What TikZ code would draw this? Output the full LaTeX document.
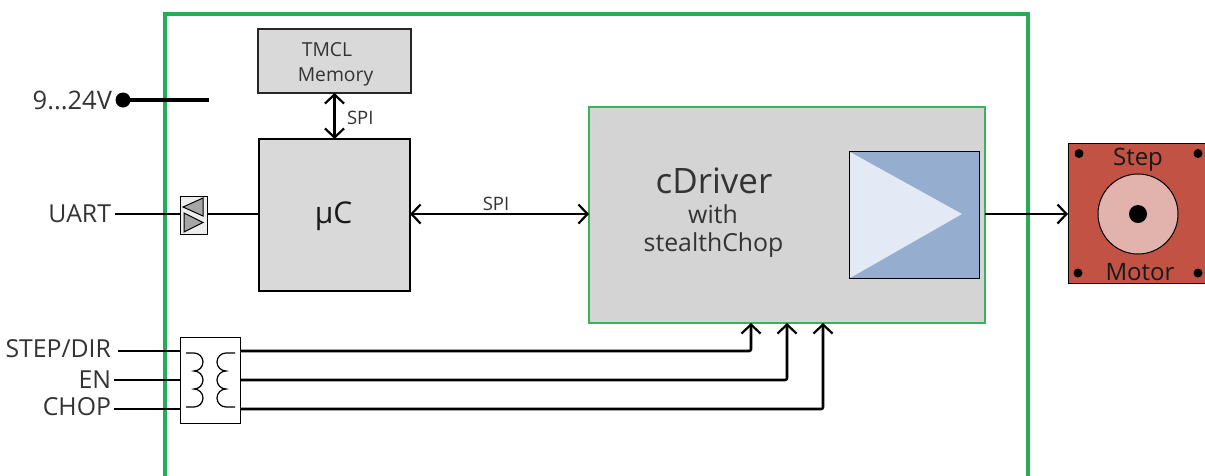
\documentclass[tikz,border=0pt]{standalone}
\usepackage{fontspec}
\setmainfont{Open Sans}
\usetikzlibrary{arrows.meta}
\definecolor{frameg}{HTML}{27AB54}
\definecolor{drvg}{HTML}{3CB05A}
\definecolor{txt}{HTML}{333333}
\tikzset{
  box/.style={draw=#1,inner sep=0pt,outer sep=0pt},
  lbl/.style={inner sep=0pt,outer sep=0pt,text=txt,font=\fontsize{24.8}{25}\selectfont},
  lblr/.style={lbl,anchor=east},
  small/.style={lbl,font=\fontsize{18.5}{18.5}\selectfont},
  wire/.style={line width=2.6pt,black},
  thinwire/.style={line width=2.2pt,black},
  tip/.style={-{Straight Barb[length=9pt,width=19pt,line width=2.2pt]}},
  tiptwo/.style={{Straight Barb[length=9pt,width=19pt,line width=2.2pt]}-{Straight Barb[length=9pt,width=19pt,line width=2.2pt]}},
  coil/.style={line width=1.2pt,black},
}
\begin{document}
\begin{tikzpicture}[x=1pt,y=-1pt]
\useasboundingbox (0,0) rectangle (1205,475);
\clip (0,0) rectangle (1205,475);
% enclosure
\coordinate (fa) at (165,480);
\coordinate (fb) at (165,14);
\coordinate (fc) at (1028,14);
\coordinate (fd) at (1028,480);
\draw[frameg,line width=3.4pt] (fa) -- (fb) -- (fc) -- (fd);
% blocks
\node[box=black!85,fill=black!15,line width=1.6pt,minimum width=153pt,minimum height=64pt] (mem) at (334.5,61) {};
\node[lbl,font=\fontsize{19.3}{19.3}\selectfont] (memA) at (327,50) {TMCL};
\node[lbl,font=\fontsize{19.3}{19.3}\selectfont] (memB) at (335.5,76.5) {Memory};
\node[box=black,fill=black!15,line width=2.4pt,minimum width=151pt,minimum height=152pt] (uc) at (334.5,215) {};
\node[lbl,text=black!90,font=\fontsize{30}{30}\selectfont] (ucl) at (333.5,216) {µC};
\node[box=drvg,fill=black!17,line width=2.4pt,minimum width=396pt,minimum height=216pt] (drv) at (787,215) {};
\node[lbl,font=\fontsize{35}{35}\selectfont] (drvA) at (714,181) {cDriver};
\node[lbl] (drvB) at (713,214) {with};
\node[lbl] (drvC) at (713.5,245.5) {stealthChop};
\node[box=black,fill={rgb,255:red,149;green,173;blue,206},line width=1pt,minimum width=130pt,minimum height=127pt] (amp) at (914.5,214.5) {};
\fill[fill={rgb,255:red,228;green,234;blue,245}] (850,152) -- (962,214) -- (850,278) -- cycle;
\draw[black,line width=1pt] (amp.north west) rectangle (amp.south east);
% motor
\node[box=black,fill={rgb,255:red,193;green,82;blue,68},line width=1pt,minimum width=140pt,minimum height=140pt] (mot) at (1138,213) {};
\node[draw=black,fill={rgb,255:red,226;green,178;blue,172},circle,line width=1pt,minimum size=80pt,inner sep=0pt,outer sep=0pt] (rot) at (1138,214) {};
\node[fill=black,circle,minimum size=18pt,inner sep=0pt] (shaft) at (1138,214) {};
\foreach \n/\a/\b in {m1/1079/153.5,m2/1198/153.5,m3/1078/273,m4/1198/273}
  \node[fill=black,circle,minimum size=9pt,inner sep=0pt] (\n) at (\a,\b) {};
\node[lbl,text=black!90,font=\fontsize{24}{24}\selectfont] (stp) at (1138,159.5) {Step};
\node[lbl,text=black!90,font=\fontsize{24}{24}\selectfont] (mtr) at (1140,272) {Motor};
% 9..24V
\node[lblr,font=\fontsize{25.5}{25.5}\selectfont] (vl) at (112,100) {9...24V};
\node[fill=black,circle,minimum size=15pt,inner sep=0pt,outer sep=0pt] (vd) at (123,100) {};
\coordinate (ve) at (209,100);
\draw[black,line width=4.4pt] (vd.center) -- (ve);
% UART
\node[lblr] (ul) at (111,213.5) {UART};
\node[box=black,fill=white!93!black,line width=1pt,minimum width=27pt,minimum height=38pt] (buf) at (193.5,215) {};
\fill[black!35] (183,207) -- (203,198) -- (203,216) -- cycle;
\draw[black,line width=1pt] (183,207) -- (203,198) -- (203,216) -- cycle;
\fill[black!35] (184,213) -- (184,232) -- (203,222.5) -- cycle;
\draw[black,line width=1pt] (184,213) -- (184,232) -- (203,222.5) -- cycle;
\coordinate (us) at (115,214);
\draw[thinwire] (us) -- (us -| buf.west);
\draw[thinwire] (buf.east |- us) -- (uc.west |- us);
% SPI
\coordinate (lane) at (500,214);
\draw[wire,tiptwo] (mem.south) -- (mem.south |- uc.north);
\node[small,anchor=west] (spiA) at (347,118) {SPI};
\draw[wire,tiptwo] (uc.east |- lane) -- (drv.west |- lane);
\node[small] (spiB) at (496,204) {SPI};
\draw[thinwire,tip] (drv.east |- lane) -- (mot.west |- lane);
% isolator
\node[box=black,fill=white,line width=1pt,minimum width=60pt,minimum height=86pt] (iso) at (210,380) {};
\draw[coil] (186,353) -- (194,353) arc[start angle=90,end angle=-90,radius=9pt]
  arc[start angle=90,end angle=-90,radius=9pt] arc[start angle=90,end angle=-90,radius=9pt] -- (186,407);
\draw[coil] (235,353) -- (226,353) arc[start angle=90,end angle=270,radius=9pt]
  arc[start angle=90,end angle=270,radius=9pt] arc[start angle=90,end angle=270,radius=9pt] -- (235,407);
\node[lblr] (l1) at (111,349) {STEP/DIR};
\node[lblr] (l2) at (111,380) {EN};
\node[lblr] (l3) at (111,407) {CHOP};
\coordinate (s1) at (118,351);
\coordinate (s2) at (114,380);
\coordinate (s3) at (114,409);
\coordinate (d1) at (751,323);
\coordinate (d2) at (787,323);
\coordinate (d3) at (823,323);
\draw[wire] (s1) -- (s1 -| iso.west);
\draw[wire] (s2) -- (s2 -| iso.west);
\draw[wire] (s3) -- (s3 -| iso.west);
\draw[wire,tip,rounded corners=2pt] (s1 -| iso.east) -| (d1);
\draw[wire,tip,rounded corners=2pt] (s2 -| iso.east) -| (d2);
\draw[wire,tip,rounded corners=2pt] (s3 -| iso.east) -| (d3);
\end{tikzpicture}
\end{document}
